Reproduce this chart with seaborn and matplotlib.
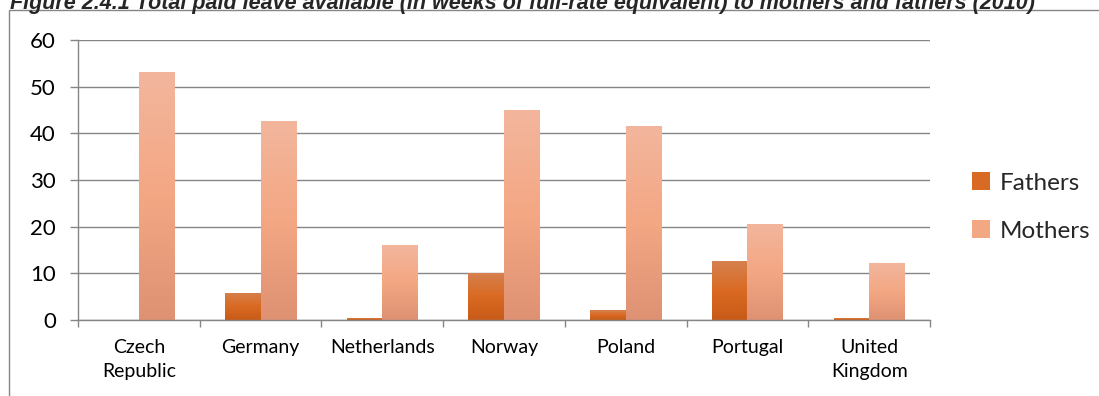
import numpy as np
import pandas as pd
import matplotlib
matplotlib.use("Agg")
import matplotlib.pyplot as plt
from matplotlib.colors import LinearSegmentedColormap
from matplotlib.patches import Rectangle, Patch
import seaborn as sns

# Paid leave in weeks of full-rate equivalent, 2010
countries = ["Czech\nRepublic", "Germany", "Netherlands", "Norway", "Poland", "Portugal", "United\nKingdom"]
fathers = [0.0, 5.8, 0.4, 10.0, 2.1, 12.6, 0.4]
mothers = [53.1, 42.6, 16.1, 45.0, 41.6, 20.6, 12.2]
series = ["Fathers", "Mothers"]
y_ticks = [0, 10, 20, 30, 40, 50, 60]
title = "Figure 2.4.1 Total paid leave available (in weeks of full-rate equivalent) to mothers and fathers (2010)"

df = pd.DataFrame({
    "country": countries * 2,
    "series": ["Fathers"] * len(countries) + ["Mothers"] * len(countries),
    "weeks": fathers + mothers,
})

sns.set_theme(style="white")
plt.rcParams["font.family"] = ["Lato", "DejaVu Sans"]

mid_colors = {"Fathers": "#D96A24", "Mothers": "#F3A884"}
grads = {
    "Fathers": LinearSegmentedColormap.from_list("f", ["#C75B17", "#DA6A22", "#D5814F"]),
    "Mothers": LinearSegmentedColormap.from_list("m", ["#DF9273", "#F4A783", "#F2B69D"]),
}

fig = plt.figure(figsize=(10.99, 3.96), dpi=100)
ax = fig.add_axes([78 / 1099, 1 - 320 / 396, (930 - 78) / 1099, 280 / 396])

sns.barplot(data=df, x="country", y="weeks", hue="series", hue_order=series,
            palette=mid_colors, width=0.584, gap=0, dodge=True, ax=ax,
            legend=False, saturation=1, edgecolor="none", linewidth=0)

# Vertical gradient fill for every bar, clipped to the bar shape
grad = np.linspace(0, 1, 256).reshape(-1, 1)
n = len(countries)
for i, p in enumerate(ax.patches):
    h = p.get_height()
    if h <= 0:
        continue
    name = series[i // n]
    x0 = p.get_x()
    w = p.get_width()
    im = ax.imshow(grad, cmap=grads[name], aspect="auto", origin="lower",
                   extent=[x0, x0 + w, 0, h], zorder=p.get_zorder() + 0.1,
                   interpolation="bilinear")
    im.set_clip_path(p)

ax.set_xlim(-0.5, n - 0.5)
ax.set_ylim(0, 60)
ax.set_yticks(y_ticks)
ax.set_yticklabels([str(v) for v in y_ticks], fontsize=16, color="#000000")
ax.set_xticks(range(n))
ax.set_xticklabels(countries, fontsize=14, color="#000000", linespacing=1.45)
ax.set_xticks(np.arange(-0.5, n, 1.0), minor=True)
ax.tick_params(axis="x", which="major", length=0, pad=14)
ax.tick_params(axis="x", which="minor", length=5, width=1, color="#868686", bottom=True)
ax.tick_params(axis="y", which="major", length=6, width=1, color="#868686", left=True, pad=10)
ax.set_xlabel("")
ax.set_ylabel("")

ax.yaxis.grid(True, color="#868686", linewidth=1)
ax.set_axisbelow(True)
for side in ["top", "right"]:
    ax.spines[side].set_visible(False)
for side in ["left", "bottom"]:
    ax.spines[side].set_color("#868686")
    ax.spines[side].set_linewidth(1)

handles = [Patch(facecolor=mid_colors[s], edgecolor="none") for s in series]
fig.legend(handles, series, loc="center left", bbox_to_anchor=(972 / 1099, 1 - 207 / 396),
           frameon=False, fontsize=17.5, handlelength=0.75, handleheight=0.75,
           handletextpad=0.4, labelspacing=1.1, borderaxespad=0, borderpad=0)

# Chart frame
fig.add_artist(Rectangle((9 / 1099, -0.1), 1.2, 1.1 - 10 / 396, transform=fig.transFigure,
                         fill=False, edgecolor="#868686", linewidth=1))

fig.text(10 / 1099, 1 - 9 / 396, title, fontsize=15.5, fontweight="bold", fontstyle="italic",
         family="Liberation Sans", va="baseline", ha="left")

fig.savefig("out.png", dpi=100)
